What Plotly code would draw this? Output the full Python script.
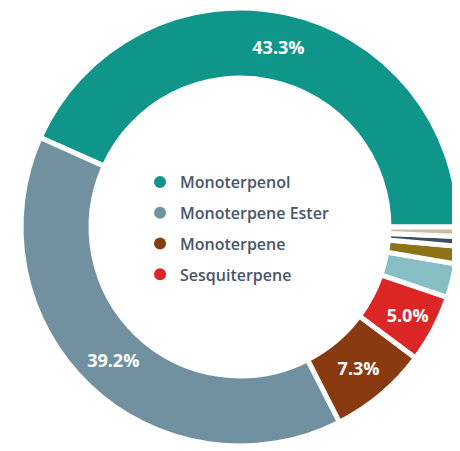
import plotly.graph_objects as go

categories = ["Monoterpenol", "Monoterpene Ester", "Monoterpene", "Sesquiterpene",
              "Oxide", "Ketone", "Aldehyde", "Other"]
values = [43.3, 39.2, 7.3, 5.0, 2.5, 1.3, 0.7, 0.7]
colors = ["#10958a", "#7191a1", "#8a3a10", "#dc2626",
          "#86bec4", "#8c7414", "#3d4f5e", "#c8bea2"]
legend_items = ["Monoterpenol", "Monoterpene Ester", "Monoterpene", "Sesquiterpene"]
label_min_pct = 4.0

texts = [f"{v:.1f}%" if v >= label_min_pct else "" for v in values]
# first slice spans counterclockwise from 3 o'clock
rotation = 90 - 360 * values[0] / sum(values)

fig = go.Figure()
fig.add_trace(go.Pie(
    labels=categories, values=values, text=texts, textinfo="text",
    hole=0.68, sort=False, direction="counterclockwise", rotation=rotation,
    marker=dict(colors=colors, line=dict(color="white", width=5)),
    textposition="inside", insidetextorientation="horizontal",
    textfont=dict(family="Open Sans", size=18, color="white", weight="bold"),
    showlegend=False,
    domain=dict(x=[0.0283, 0.9804], y=[0.0288, 1.0]),
    hovertemplate="%{label}: %{value}%<extra></extra>",
))

for name in legend_items:
    c = colors[categories.index(name)]
    fig.add_trace(go.Scatter(
        x=[None], y=[None], mode="markers", name=name,
        marker=dict(color=c, size=12, symbol="circle"),
        legendgroup=name, showlegend=True,
    ))

fig.update_layout(
    width=460, height=451,
    margin=dict(l=0, r=0, t=0, b=0),
    paper_bgcolor="white", plot_bgcolor="white",
    xaxis=dict(visible=False), yaxis=dict(visible=False),
    legend=dict(x=0.287, y=0.511, xanchor="left", yanchor="middle",
                bgcolor="rgba(0,0,0,0)", tracegroupgap=7,
                font=dict(family="Open Sans", size=16, color="#4a5568", weight=600)),
)

fig.write_html("out.html")
